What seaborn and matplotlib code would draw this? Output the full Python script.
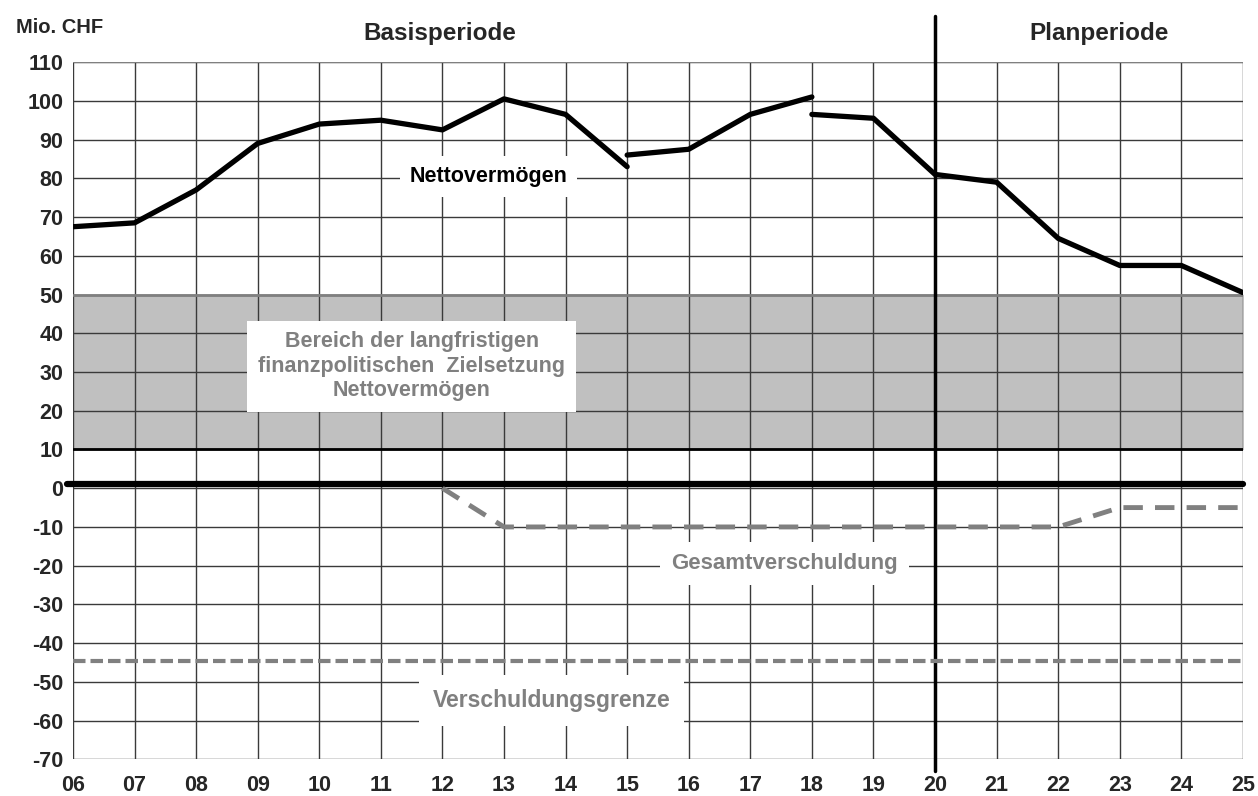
import numpy as np
import pandas as pd
import matplotlib
matplotlib.use("Agg")
import matplotlib.pyplot as plt
import seaborn as sns

# Jahre (Achse 06 .. 25)
jahre = list(range(6, 26))
jahr_labels = ["%02d" % j for j in jahre]

# Nettovermögen in drei Abschnitten (Brüche bei 15 und 18)
nv1_jahre = [6, 7, 8, 9, 10, 11, 12, 13, 14, 15]
nv1_wert = [67.5, 68.5, 77, 89, 94, 95, 92.5, 100.5, 96.5, 83]
nv2_jahre = [15, 16, 17, 18]
nv2_wert = [86, 87.5, 96.5, 101]
nv3_jahre = [18, 19, 20, 21, 22, 23, 24, 25]
nv3_wert = [96.5, 95.5, 81, 79, 64.5, 57.5, 57.5, 50.5]

# Gesamtverschuldung
gv_jahre = [12, 13, 14, 15, 16, 17, 18, 19, 20, 21, 22, 23, 24, 25]
gv_wert = [0, -10, -10, -10, -10, -10, -10, -10, -10, -10, -10, -5, -5, -5]

# Verschuldungsgrenze
grenze = -44.5

# Zielbereich Nettovermögen
ziel_unten = 10
ziel_oben = 50

sns.set_style("white")
plt.rcParams['font.family'] = ['Liberation Sans', 'DejaVu Sans']
plt.rcParams['font.weight'] = 'bold'
plt.rcParams['axes.unicode_minus'] = False

fig = plt.figure(figsize=(12.58, 7.96), dpi=100)
ax = fig.add_axes([0.058, 0.046, 0.930, 0.876])

# Zielbereich
ax.fill_between([6, 25], ziel_unten, ziel_oben, color='#c0c0c0', zorder=0)

ax.set_xlim(6, 25)
ax.set_ylim(-70, 110)
ax.set_xticks(jahre)
ax.set_xticklabels(jahr_labels)
ax.set_yticks(range(-70, 111, 10))
ax.grid(True, color='#3a3a3a', linewidth=1, zorder=1)
ax.set_axisbelow(True)
for s in ax.spines.values():
    s.set_visible(False)
ax.tick_params(axis='y', length=4, width=1, color='#333333', pad=3, labelsize=15.5)
ax.tick_params(axis='x', length=0, pad=11, labelsize=15.5)

ax.axhline(110, color='#808080', lw=1.5, zorder=2)
ax.axhline(ziel_oben, color='#808080', lw=2, zorder=2)
ax.axhline(ziel_unten, color='black', lw=2, zorder=2)
ax.axhline(1, color='black', lw=4.5, zorder=3, xmin=-0.005, clip_on=False)

# Trennlinie Basis-/Planperiode
ax.plot([20, 20], [-73, 122], color='black', lw=2.5, clip_on=False, zorder=4)

# Linien
nv = pd.DataFrame({'jahr': nv1_jahre + nv2_jahre + nv3_jahre,
                   'wert': nv1_wert + nv2_wert + nv3_wert,
                   'teil': [1] * len(nv1_jahre) + [2] * len(nv2_jahre) + [3] * len(nv3_jahre)})
sns.lineplot(data=nv, x='jahr', y='wert', units='teil', estimator=None,
             color='black', lw=3.8, ax=ax, zorder=5, legend=False)
sns.lineplot(x=gv_jahre, y=gv_wert, color='#808080', lw=3.5, ax=ax, zorder=5,
             dashes=False, linestyle=(0, (4, 2.5)))
ax.axhline(grenze, color='#808080', lw=3, linestyle=(0, (3, 1.2)), zorder=5)
ax.set_xlabel('')
ax.set_ylabel('')

# Beschriftungen
ax.text(12.75, 80.5, 'Nettovermögen', ha='center', va='center', fontsize=15.5,
        color='black', bbox=dict(facecolor='white', edgecolor='none', boxstyle='square,pad=0.45'), zorder=6)
ax.text(11.5, 31.5, 'Bereich der langfristigen\nfinanzpolitischen  Zielsetzung\nNettovermögen',
        ha='center', va='center', fontsize=15.5, color='#808080', linespacing=1.2,
        bbox=dict(facecolor='white', edgecolor='none', boxstyle='square,pad=0.5'), zorder=6)
ax.text(17.55, -19.5, 'Gesamtverschuldung', ha='center', va='center', fontsize=16,
        color='#808080', bbox=dict(facecolor='white', edgecolor='none', boxstyle='square,pad=0.5'), zorder=6)
ax.text(13.77, -54.8, 'Verschuldungsgrenze', ha='center', va='center', fontsize=16.5,
        color='#808080', bbox=dict(facecolor='white', edgecolor='none', boxstyle='square,pad=0.6'), zorder=6)

fig.text(0.047, 0.965, 'Mio. CHF', ha='center', va='center', fontsize=14.5)
fig.text(0.350, 0.958, 'Basisperiode', ha='center', va='center', fontsize=17.5)
fig.text(0.874, 0.958, 'Planperiode', ha='center', va='center', fontsize=17.5)

fig.savefig('out.png', dpi=100)
